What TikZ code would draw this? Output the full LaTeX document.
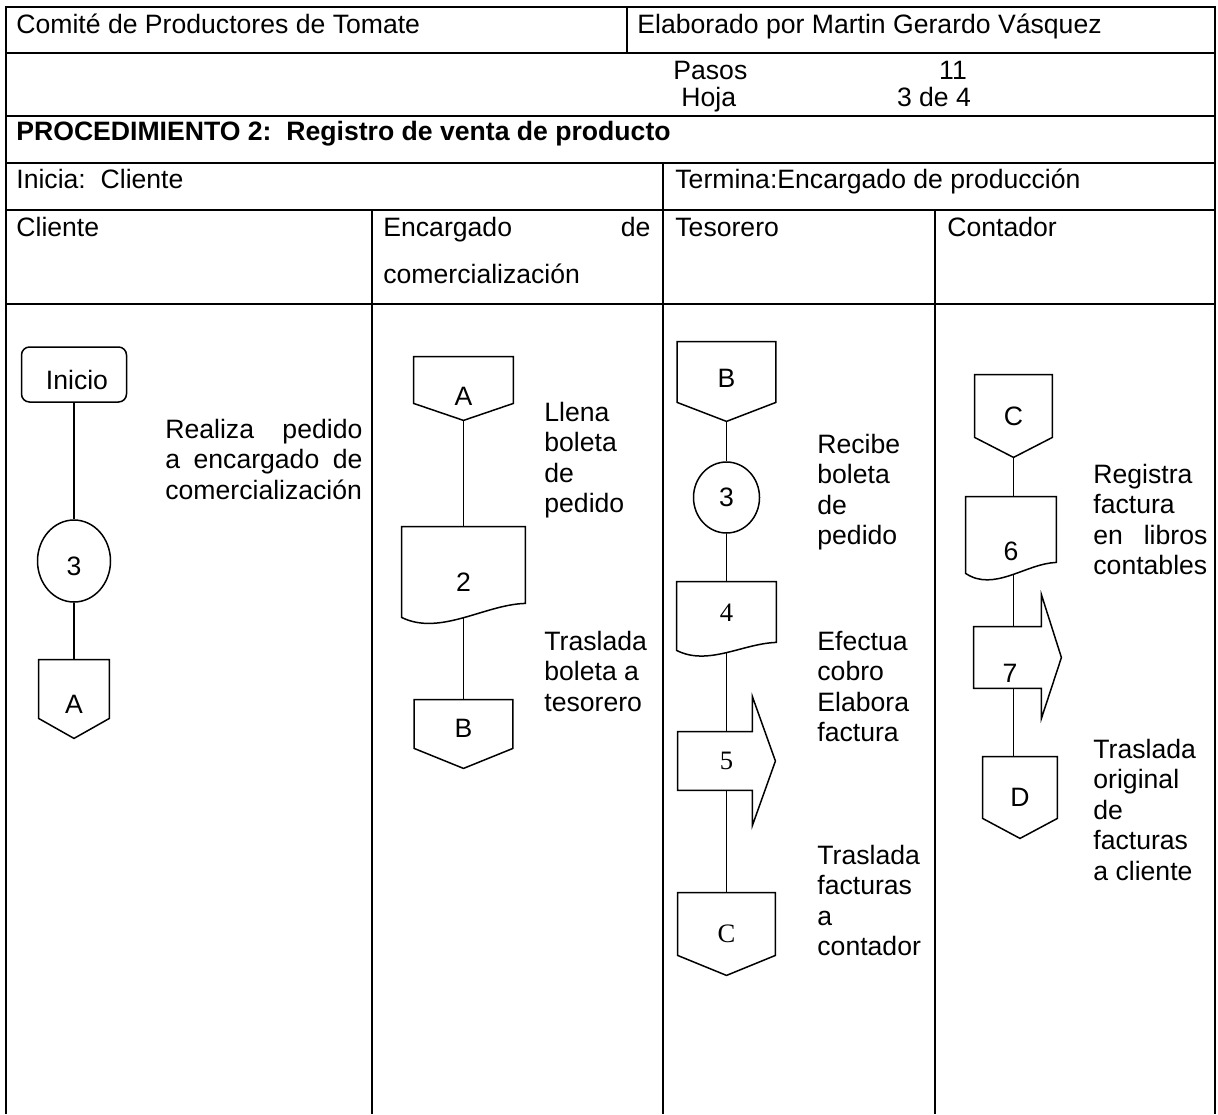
\documentclass[tikz,border=0pt]{standalone}
\usepackage{fontspec}
\setmainfont{Liberation Sans}
\newfontfamily\timesnum{Liberation Serif}
\usetikzlibrary{shapes.geometric}

\begin{document}
\begin{tikzpicture}[x=0.5pt,y=-0.5pt,
    frame/.style={line width=1pt},
    outline/.style={line width=0.75pt},
    link/.style={line width=0.75pt},
    cell/.style={anchor=base west,inner sep=0pt,font=\fontsize{13.3}{15.25}\selectfont},
    say/.style={anchor=north west,inner sep=0pt,align=left,font=\fontsize{13.3}{15.25}\selectfont,execute at begin node=\strut},
    sym/.style={inner sep=0pt,font=\fontsize{13.3}{15.25}\selectfont},
    start/.style={sym,draw,line width=0.75pt,rounded corners=4pt},
    oval/.style={sym,draw,ellipse,line width=0.75pt}]

  \useasboundingbox (0,0) rectangle (1218,1114);

  % --- the form: header rows and the four lanes ---
  \draw[frame] (6,1114) -- (6,7) -- (1215,7) -- (1215,1114);
  \draw[frame] (6, 53) -- (1215, 53);
  \draw[frame] (6,116) -- (1215,116);
  \draw[frame] (6,163) -- (1215,163);
  \draw[frame] (6,210) -- (1215,210);
  \draw[frame] (6,304) -- (1215,304);
  \draw[frame] (627,  7) -- (627, 53);
  \draw[frame] (663,163) -- (663,210);
  \draw[frame] (372,210) -- (372,1114);
  \draw[frame] (663,210) -- (663,1114);
  \draw[frame] (935,210) -- (935,1114);

  % --- header texts ---
  \node[cell] (comite)  at (16, 33) {Comité de Productores de Tomate};
  \node[cell] (autor)   at (637, 33) {Elaborado por Martin Gerardo Vásquez};
  \node[cell] (pasos)   at (673, 79) {Pasos};
  \node[cell,anchor=base] (npasos) at (953, 79) {11};
  \node[cell] (hoja)    at (681,106) {Hoja};
  \node[cell,anchor=base] (nhoja)  at (934,106) {3 de 4};
  \node[cell,font=\fontsize{13.3}{15.25}\selectfont\bfseries] (proc) at (16,140)
       {PROCEDIMIENTO 2:\ \ Registro de venta de producto};
  \node[cell] (inicia)  at (16,188) {Inicia:\ \ Cliente};
  \node[cell] (termina) at (675,188) {Termina:Encargado de producción};
  \node[cell] (lcli)    at (16,236) {Cliente};
  \node[cell] (lenc)    at (383,236) {\makebox[133.5pt][s]{Encargado de}};
  \node[cell] (lenc2)   at (383,283) {comercialización};
  \node[cell] (ltes)    at (675,236) {Tesorero};
  \node[cell] (lcon)    at (947,236) {Contador};

  % --- Cliente ---
  \node[start,minimum width=52.5pt,minimum height=27.5pt,text height=15.5pt] (ini) at (74,374.5) {\kern3pt Inicio};
  \node[oval,minimum width=36.5pt,minimum height=41pt,text height=14.5pt] (cli3) at (74,561) {3};
  \node[sym,minimum width=35pt,minimum height=39pt,text height=14.5pt] (cliA) at (74,699) {A};
  \draw[outline] (cliA.north west) -- (cliA.north east) -- ([shift={(0,-20)}]cliA.south east)
                 -- (cliA.south) -- ([shift={(0,-20)}]cliA.south west) -- cycle;
  \draw[link] (ini) -- (cli3);
  \draw[link] (cli3) -- (cliA);
  \node[say] (txtCli) at (165,418.6)
       {\makebox[98.5pt][s]{Realiza pedido}\\\makebox[98.5pt][s]{a encargado de}\\comercialización};

  % --- Encargado de comercialización ---
  \node[sym,minimum width=49.5pt,minimum height=31.5pt,text height=17pt] (encA) at (463.5,388.5) {A};
  \draw[outline] (encA.north west) -- (encA.north east) -- ([shift={(0,-17)}]encA.south east)
                 -- (encA.south) -- ([shift={(0,-17)}]encA.south west) -- cycle;
  \node[sym,minimum width=61.5pt,minimum height=45.5pt,text height=18.5pt] (enc2) at (463.5,572.5) {2};
  \draw[outline] (enc2.north west) -- (enc2.north east) -- ([shift={(0,-15)}]enc2.south east)
                 .. controls ([shift={(21.5,-14)}]enc2.south) and ([shift={(-23.5,18)}]enc2.south)
                 .. ([shift={(0,-1)}]enc2.south west) -- cycle;
  \node[sym,minimum width=49pt,minimum height=34pt,text depth=5.5pt] (encB) at (463.5,734) {B};
  \draw[outline] (encB.north west) -- (encB.north east) -- ([shift={(0,-20)}]encB.south east)
                 -- (encB.south) -- ([shift={(0,-20)}]encB.south west) -- cycle;
  \draw[link] (encA) -- (enc2);
  \draw[link] (enc2) -- (encB);
  \node[say] (txtEnc1) at (544,401.6) {Llena\\boleta\\de\\pedido};
  \node[say] (txtEnc2) at (544,630.6) {Traslada\\boleta a\\tesorero};

  % --- Tesorero ---
  \node[sym,minimum width=49pt,minimum height=39.5pt,text depth=3pt] (tesB) at (726.5,381.5) {B};
  \draw[outline] (tesB.north west) -- (tesB.north east) -- ([shift={(0,-19)}]tesB.south east)
                 -- (tesB.south) -- ([shift={(0,-19)}]tesB.south west) -- cycle;
  \node[oval,minimum width=33pt,minimum height=35.5pt] (tes3) at (726.5,497.5) {3};
  \node[sym,minimum width=49.5pt,minimum height=35pt,text depth=4.5pt] (tes4) at (726.5,617) {\timesnum 4};
  \draw[outline] (tes4.north west) -- (tes4.north east) -- ([shift={(0,-10)}]tes4.south east)
                 .. controls ([shift={(16.5,-9)}]tes4.south) and ([shift={(-18.5,14)}]tes4.south)
                 .. ([shift={(0,-2)}]tes4.south west) -- cycle;
  \node[sym,minimum width=48.5pt,minimum height=29pt] (tes5) at (726.5,761) {\timesnum 5};
  \draw[outline] (tes5.north west) -- ([shift={(-23,0)}]tes5.north east) -- ([shift={(-23,-35)}]tes5.north east)
                 -- (tes5.east) -- ([shift={(-23,35)}]tes5.south east) -- ([shift={(-23,0)}]tes5.south east)
                 -- (tes5.south west) -- cycle;
  \node[sym,minimum width=48.5pt,minimum height=41pt] (tesC) at (726.5,934) {\timesnum C};
  \draw[outline] (tesC.north west) -- (tesC.north east) -- ([shift={(0,-20)}]tesC.south east)
                 -- (tesC.south) -- ([shift={(0,-20)}]tesC.south west) -- cycle;
  \draw[link] (tesB) -- (tes3);
  \draw[link] (tes3) -- (tes4);
  \draw[link] (tes4) -- (tes5);
  \draw[link] (tes5) -- (tesC);
  \node[say] (txtTes1) at (817,433.6) {Recibe\\boleta\\de\\pedido};
  \node[say] (txtTes2) at (817,630.6) {Efectua\\cobro\\Elabora\\factura};
  \node[say] (txtTes3) at (817,844.6) {Traslada\\facturas\\a\\contador};

  % --- Contador ---
  \node[sym,minimum width=38.5pt,minimum height=41pt] (conC) at (1013.5,416) {C};
  \draw[outline] (conC.north west) -- (conC.north east) -- ([shift={(0,-20)}]conC.south east)
                 -- (conC.south) -- ([shift={(0,-20)}]conC.south west) -- cycle;
  \node[sym,minimum width=45pt,minimum height=39pt,text height=25pt] (con6) at (1011,536) {6};
  \draw[outline] (con6.north west) -- (con6.north east) -- ([shift={(0,-13)}]con6.south east)
                 .. controls ([shift={(15,-12)}]con6.south) and ([shift={(-17,17)}]con6.south)
                 .. ([shift={(0,-2)}]con6.south west) -- cycle;
  \node[sym,minimum width=43.5pt,minimum height=30.5pt,text height=25pt] (con7) at (1017.5,657.5) {7\kern7.5pt};
  \draw[outline] (con7.north west) -- ([shift={(-20,0)}]con7.north east) -- ([shift={(-20,-32)}]con7.north east)
                 -- (con7.east) -- ([shift={(-20,30)}]con7.south east) -- ([shift={(-20,0)}]con7.south east)
                 -- (con7.south west) -- cycle;
  \node[sym,minimum width=37pt,minimum height=40.5pt] (conD) at (1020,797.5) {D};
  \draw[outline] (conD.north west) -- (conD.north east) -- ([shift={(0,-20)}]conD.south east)
                 -- (conD.south) -- ([shift={(0,-20)}]conD.south west) -- cycle;
  \draw[link] (conC) -- (conC |- con6.north);
  \draw[link] (conC |- con6.south) -- (conC |- con7.north);
  \draw[link] (conC |- con7.south) -- (conC |- conD.north);
  \node[say] (txtCon1) at (1093,463.6) {Registra\\factura\\\makebox[57pt][s]{en libros}\\contables};
  \node[say] (txtCon2) at (1093,738.6) {Traslada\\original\\de\\facturas\\a cliente};
\end{tikzpicture}
\end{document}
